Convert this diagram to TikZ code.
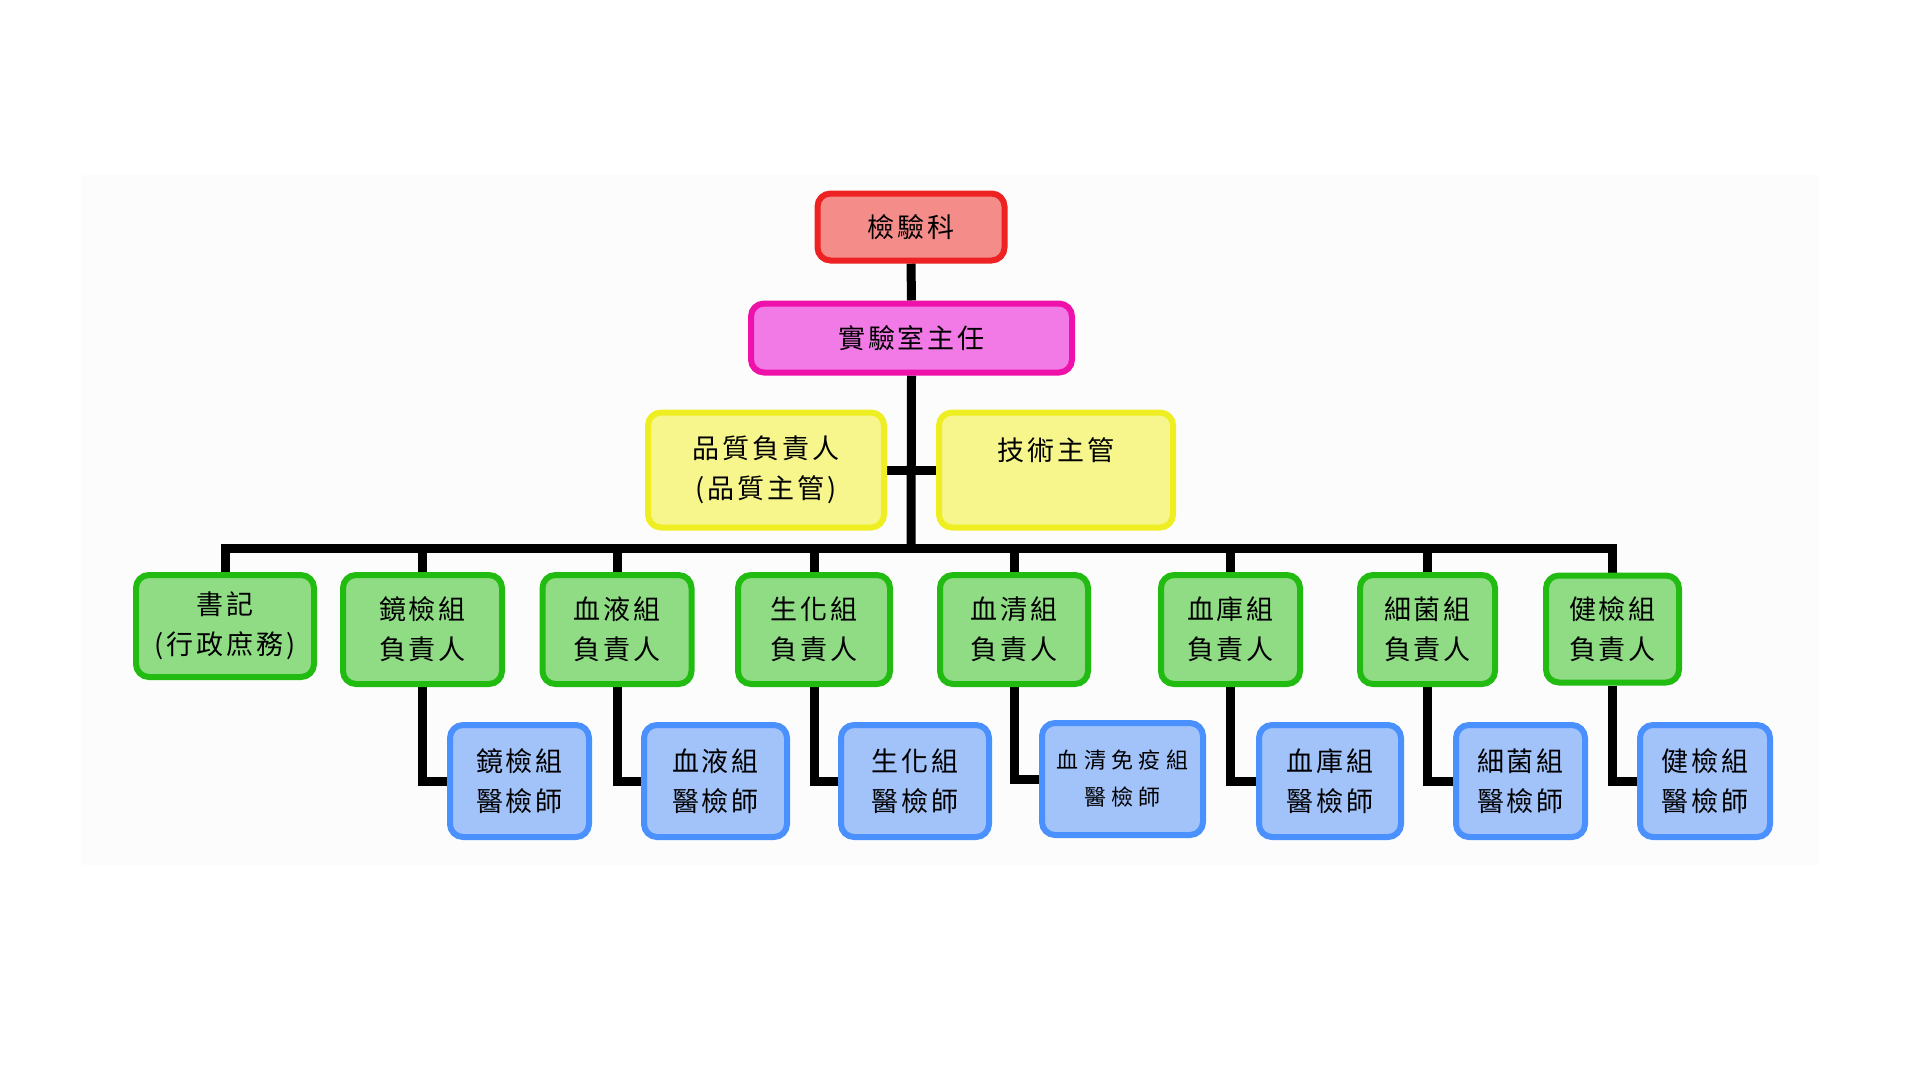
\documentclass[tikz,border=0pt]{standalone}
\usepackage{fontspec}
\newfontfamily\cjk[LetterSpace=11]{Noto Sans CJK TC}
\newfontfamily\cjksmall[LetterSpace=24]{Noto Sans CJK TC}
\definecolor{redfill}{HTML}{F48C8A}
\definecolor{redline}{HTML}{EE2222}
\definecolor{magfill}{HTML}{F27AE6}
\definecolor{magline}{HTML}{EE11AA}
\definecolor{yelfill}{HTML}{F6F68C}
\definecolor{yelline}{HTML}{EEEE22}
\definecolor{grnfill}{HTML}{8FDC85}
\definecolor{grnline}{HTML}{22BB11}
\definecolor{blufill}{HTML}{A2C2FA}
\definecolor{bluline}{HTML}{4A90FF}
\definecolor{panel}{HTML}{FCFCFC}
\pgfdeclarelayer{panellayer}
\pgfdeclarelayer{linelayer}
\pgfsetlayers{panellayer,linelayer,main}
\tikzset{
  orgbox/.style={rounded corners=13pt, line width=6pt, inner sep=0pt, align=center,
    font=\cjk\fontsize{27}{40}\selectfont, text=black},
  redbox/.style={orgbox, draw=redline, fill=redfill},
  magbox/.style={orgbox, draw=magline, fill=magfill},
  yelbox/.style={orgbox, draw=yelline, fill=yelfill},
  grnbox/.style={orgbox, draw=grnline, fill=grnfill, minimum height=109pt},
  blubox/.style={orgbox, draw=bluline, fill=blufill, minimum height=112pt},
  conn/.style={line width=9pt, draw=black, line join=miter}
}
\begin{document}
\begin{tikzpicture}[x=1pt,y=-1pt]
\useasboundingbox (0,0) rectangle (1920,1080);
\begin{pgfonlayer}{panellayer}
\fill[panel] (81,175) rectangle (1818,865);
\end{pgfonlayer}

\coordinate (busL) at (226,548);
\coordinate (trunkB) at (911,548);

% top level
\node[redbox, minimum width=187pt, minimum height=67pt] (red) at (911,227) {檢驗科};
\node[magbox, minimum width=321pt, minimum height=69pt] (mag) at (911.5,338) {實驗室主任};
\node[yelbox, minimum width=236pt, minimum height=115pt] (yl) at (766,470) {品質負責人\\(品質主管)};
\node[yelbox, minimum width=234pt, minimum height=115pt] (yr) at (1056,470) {技術主管\\\phantom{主}};

% green row
\node[grnbox, minimum width=178pt, minimum height=102pt] (g1) at (225,626) {書記\\(行政庶務)};
\node[grnbox, minimum width=159pt] (g2) at (422.5,629.5) {鏡檢組\\負責人};
\node[grnbox, minimum width=149pt] (g3) at (617,629.5) {血液組\\負責人};
\node[grnbox, minimum width=152pt] (g4) at (814,629.5) {生化組\\負責人};
\node[grnbox, minimum width=148pt] (g5) at (1014,629.5) {血清組\\負責人};
\node[grnbox, minimum width=139pt] (g6) at (1230.5,629.5) {血庫組\\負責人};
\node[grnbox, minimum width=135pt] (g7) at (1427.5,629.5) {細菌組\\負責人};
\node[grnbox, minimum width=133pt, minimum height=107pt] (g8) at (1612.5,629) {健檢組\\負責人};

% blue row
\node[blubox, minimum width=139pt] (b1) at (519.5,781) {鏡檢組\\醫檢師};
\node[blubox, minimum width=143pt] (b2) at (715.5,781) {血液組\\醫檢師};
\node[blubox, minimum width=148pt] (b3) at (915,781) {生化組\\醫檢師};
\node[blubox, minimum width=161pt, font=\cjksmall\fontsize{22}{37}\selectfont] (b4) at (1122.5,779) {血清免疫組\\醫檢師};
\node[blubox, minimum width=142pt] (b5) at (1330,781) {血庫組\\醫檢師};
\node[blubox, minimum width=129pt] (b6) at (1520.5,781) {細菌組\\醫檢師};
\node[blubox, minimum width=130pt] (b7) at (1705,781) {健檢組\\醫檢師};

% connectors behind boxes
\begin{pgfonlayer}{linelayer}
\draw[conn] (red.south) -- (mag.north);
\draw[conn] (mag.south) -- (trunkB);
\draw[conn] (yl.east) -- (yr.west);
\draw[conn] (g1.north) -- (g1.north |- busL) -- (g8.north |- busL) -- (g8.north);
\foreach \g in {g2,g3,g4,g5,g6,g7}{
  \draw[conn] (\g.north |- busL) -- (\g.north);
}
\draw[conn] (g2.south) |- (b1.west);
\draw[conn] (g3.south) |- (b2.west);
\draw[conn] (g4.south) |- (b3.west);
\draw[conn] (g5.south) |- (b4.west);
\draw[conn] (g6.south) |- (b5.west);
\draw[conn] (g7.south) |- (b6.west);
\draw[conn] (g8.south) |- (b7.west);
\end{pgfonlayer}
\end{tikzpicture}
\end{document}
